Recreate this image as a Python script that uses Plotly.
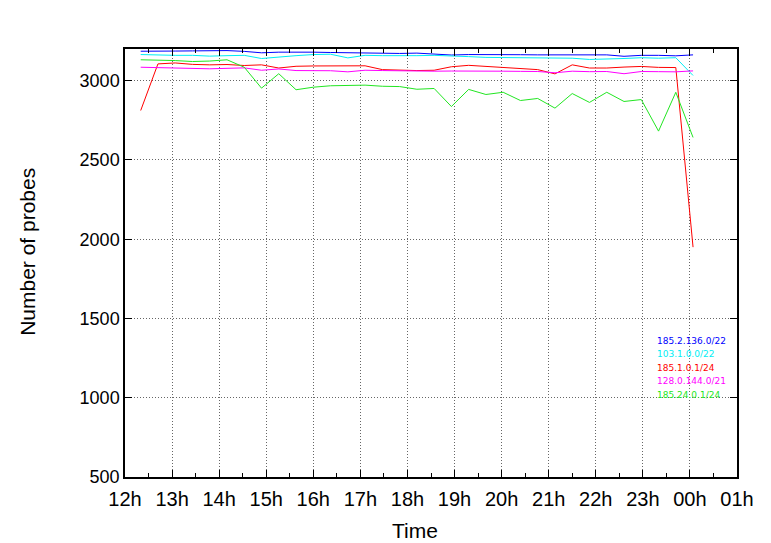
import plotly.graph_objects as go

# ---- data ----
times = [
    "2015-01-01 12:20", "2015-01-01 12:42", "2015-01-01 13:04", "2015-01-01 13:26",
    "2015-01-01 13:48", "2015-01-01 14:10", "2015-01-01 14:32", "2015-01-01 14:54",
    "2015-01-01 15:16", "2015-01-01 15:38", "2015-01-01 16:00", "2015-01-01 16:22",
    "2015-01-01 16:44", "2015-01-01 17:06", "2015-01-01 17:28", "2015-01-01 17:50",
    "2015-01-01 18:12", "2015-01-01 18:34", "2015-01-01 18:56", "2015-01-01 19:18",
    "2015-01-01 19:40", "2015-01-01 20:02", "2015-01-01 20:24", "2015-01-01 20:46",
    "2015-01-01 21:08", "2015-01-01 21:30", "2015-01-01 21:52", "2015-01-01 22:14",
    "2015-01-01 22:36", "2015-01-01 22:58", "2015-01-01 23:20", "2015-01-01 23:42",
    "2015-01-02 00:04",
]

prefix_185_2_136 = [3186, 3185, 3187, 3188, 3189, 3190, 3185, 3176, 3180, 3182, 3180,
                    3178, 3176, 3177, 3175, 3172, 3174, 3168, 3162, 3165, 3166, 3164,
                    3164, 3163, 3163, 3164, 3160, 3163, 3154, 3160, 3160, 3157, 3163]
prefix_103_1_0 = [3165, 3161, 3160, 3160, 3155, 3158, 3160, 3140, 3150, 3158, 3165,
                  3167, 3144, 3160, 3158, 3157, 3158, 3160, 3158, 3152, 3147, 3146,
                  3145, 3145, 3145, 3142, 3134, 3136, 3140, 3145, 3142, 3145, 3033]
prefix_185_1_0 = [2812, 3106, 3112, 3103, 3100, 3102, 3096, 3100, 3080, 3091, 3093,
                  3093, 3094, 3094, 3070, 3066, 3064, 3066, 3088, 3097, 3090, 3086,
                  3080, 3070, 3043, 3100, 3080, 3080, 3086, 3090, 3084, 3083, 1950]
prefix_128_0_144 = [3085, 3082, 3078, 3076, 3075, 3078, 3081, 3066, 3074, 3064, 3064,
                    3063, 3056, 3066, 3064, 3062, 3060, 3060, 3061, 3062, 3060, 3060,
                    3059, 3058, 3050, 3060, 3057, 3058, 3044, 3058, 3057, 3056, 3062]
prefix_185_24_0 = [3132, 3130, 3127, 3121, 3124, 3132, 3085, 2953, 3044, 2943, 2959,
                   2968, 2972, 2972, 2965, 2963, 2946, 2951, 2837, 2945, 2913, 2927,
                   2875, 2888, 2827, 2919, 2863, 2927, 2869, 2881, 2682, 2927, 2642]

series_names = ["185.2.136.0/22", "103.1.0.0/22", "185.1.0.1/24",
                "128.0.144.0/21", "185.24.0.1/24"]
series_values = [prefix_185_2_136, prefix_103_1_0, prefix_185_1_0,
                 prefix_128_0_144, prefix_185_24_0]
series_colors = ["#0000ff", "#00eef5", "#ff0000", "#ff00ff", "#22e622"]

x_title = "Time"
y_title = "Number of probes"
x_range = ["2015-01-01 12:00", "2015-01-02 01:00"]
y_range = [500, 3200]
y_ticks = [500, 1000, 1500, 2000, 2500, 3000]

# ---- figure ----
fig = go.Figure()
for name, vals, col in zip(series_names, series_values, series_colors):
    fig.add_trace(go.Scatter(x=times, y=vals, mode="lines", name=name,
                             line=dict(color=col, width=1), showlegend=False))

# legend as coloured text
for i, (name, col) in enumerate(zip(series_names, series_colors)):
    fig.add_annotation(xref="paper", yref="paper", x=0.866, y=0.318 - i * 0.0315,
                       text=name, showarrow=False, xanchor="left", yanchor="middle",
                       font=dict(family="DejaVu Sans", size=9, color=col))

# axis titles
fig.add_annotation(xref="paper", yref="paper", x=0.474, y=-0.125, text=x_title,
                   showarrow=False, xanchor="center", yanchor="middle",
                   font=dict(family="Liberation Sans", size=21, color="black"))
fig.add_annotation(xref="paper", yref="paper", x=-0.1585, y=0.526, text=y_title,
                   showarrow=False, xanchor="center", yanchor="middle", textangle=-90,
                   font=dict(family="Liberation Sans", size=21, color="black"))

x_font = dict(family="Liberation Sans", size=20, color="black")
y_font = dict(family="Liberation Sans", size=18, color="black")
grid_dash = "1px,2px"
fig.update_layout(
    width=771, height=543,
    margin=dict(l=117, r=42, t=41, b=74),
    paper_bgcolor="white", plot_bgcolor="white",
    xaxis=dict(
        type="date", range=x_range, dtick=3600000, tickformat="%Hh",
        showgrid=True, gridcolor="#666666", griddash=grid_dash, gridwidth=1,
        showline=True, linecolor="black", linewidth=1.5, mirror="allticks",
        ticks="inside", ticklen=7, tickcolor="black",
        minor=dict(dtick=1800000, ticks="inside", ticklen=4, tickcolor="black", showgrid=False),
        zeroline=False, tickfont=x_font, ticklabelstandoff=3,
    ),
    yaxis=dict(
        range=y_range, tickvals=y_ticks,
        showgrid=True, gridcolor="#666666", griddash=grid_dash, gridwidth=1,
        showline=True, linecolor="black", linewidth=1.5, mirror="allticks",
        ticks="inside", ticklen=7, tickcolor="black",
        zeroline=False, tickfont=y_font,
    ),
)

fig.write_html("out.html")
